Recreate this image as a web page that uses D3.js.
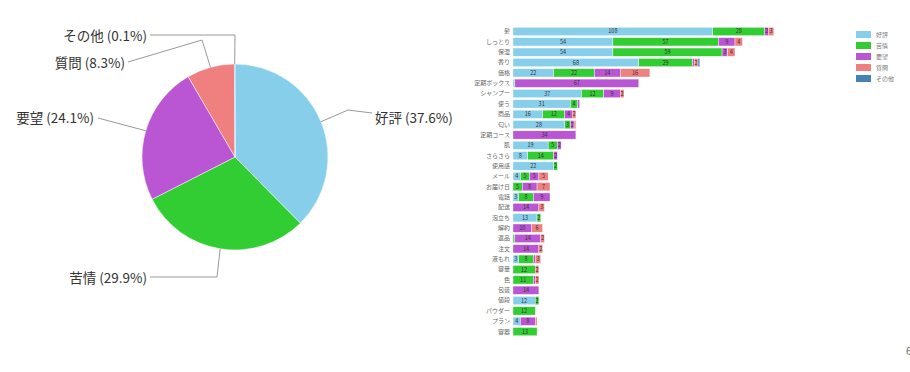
<!doctype html>
<html lang="ja">
<head>
  <meta charset="utf-8">
  <title>評価の内訳</title>
  <script src="https://cdnjs.cloudflare.com/ajax/libs/d3/7.8.5/d3.min.js"></script>
  <style>
    body { margin: 0; overflow: hidden; background: #fff; }
    text { font-family: "Noto Sans CJK JP", "Noto Sans", sans-serif; }
  </style>
</head>
<body>
<script type="text/javascript">

  // series (pie + stacked bars)
  var types = ["好評", "苦情", "要望", "質問", "その他"];
  var colors = ["#87CEEB", "#32CD32", "#BA55D3", "#F08080", "#4682B4"];
  var piePct = [37.6, 29.9, 24.1, 8.3, 0.1];

  var categories = ["髪", "しっとり", "保湿", "香り", "価格", "定期ボックス", "シャンプー", "使う", "商品", "匂い",
    "定期コース", "肌", "さらさら", "使用感", "メール", "お届け日", "電話", "配送", "泡立ち", "解約",
    "返品", "注文", "液もれ", "容量", "色", "包装", "値段", "パウダー", "プラン", "容器"];

  var goodVals  = [108, 54, 54, 68, 22, 1, 37, 31, 16, 28, 0, 19, 8, 22, 4, 0, 3, 0, 13, 0, 0, 0, 3, 0, 0, 0, 12, 0, 4, 0];
  var badVals   = [28, 57, 59, 29, 22, 0, 12, 4, 12, 3, 0, 5, 14, 2, 5, 5, 8, 0, 2, 0, 1, 0, 8, 12, 11, 0, 2, 12, 0, 13];
  var wantVals  = [2, 9, 3, 1, 14, 67, 9, 1, 4, 2, 34, 2, 2, 0, 5, 8, 9, 14, 0, 10, 14, 14, 1, 0, 1, 14, 0, 0, 8, 0];
  var askVals   = [3, 4, 4, 2, 16, 0, 2, 0, 2, 1, 0, 0, 0, 0, 5, 7, 0, 3, 0, 6, 2, 2, 3, 2, 2, 0, 0, 0, 1, 0];
  var otherVals = [0, 0, 0, 1, 0, 0, 0, 0, 0, 0, 0, 0, 0, 0, 0, 0, 0, 0, 0, 0, 0, 0, 0, 0, 0, 0, 0, 0, 0, 0];

  var config = {
    width: 910, height: 372,
    pieCx: 235, pieCy: 157, pieR: 93,
    barLeft: 513, barRight: 772, barTop: 26.3, barBottom: 336.8,
    xMax: 140
  };

  var svg = d3.select("body").append("svg")
    .attr("width", config.width)
    .attr("height", config.height);

  // ---------- pie ----------
  svg.append("defs").append("clipPath").attr("id", "pieclip")
    .append("rect").attr("x", 0).attr("y", 0).attr("width", 456).attr("height", config.height);

  var pieG = svg.append("g").attr("clip-path", "url(#pieclip)");
  var g = pieG.append("g").attr("transform", "translate(" + config.pieCx + "," + config.pieCy + ")");

  var pie = d3.pie().sort(null).value(d => d);
  var arcs = pie(piePct);
  var arc = d3.arc().innerRadius(0).outerRadius(config.pieR);
  var edge = d3.arc().innerRadius(config.pieR).outerRadius(config.pieR);

  g.selectAll("path.slice").data(arcs).enter().append("path")
    .attr("class", "slice")
    .attr("d", arc)
    .attr("fill", (d, i) => colors[i])
    .attr("stroke", "#fff")
    .attr("stroke-width", 0.5);

  // label layout relative to the pie centre: knee point, line end, text anchor
  var labelLayout = [
    { knee: [113, -47], end: [137, -44], text: [140, -40], anchor: "start" },
    { knee: [-18, 120], end: [-85, 120], text: [-88, 120], anchor: "end" },
    { knee: [-137, -39], end: [-137, -39], text: [-141, -40], anchor: "end" },
    { knee: [-33, -117], end: [-107, -95], text: [-110, -95], anchor: "end" },
    { knee: [0, -122], end: [-85, -122], text: [-88, -122], anchor: "end" }
  ];

  arcs.forEach((d, i) => {
    var p = edge.centroid(d);
    var L = labelLayout[i];
    g.append("polyline")
      .attr("points", [p, L.knee, L.end].map(q => q.join(",")).join(" "))
      .attr("fill", "none")
      .attr("stroke", "#999")
      .attr("stroke-width", 1);
    g.append("text")
      .attr("x", L.text[0]).attr("y", L.text[1])
      .attr("text-anchor", L.anchor)
      .attr("dominant-baseline", "central")
      .attr("font-size", 13.5)
      .attr("fill", "#333")
      .text(types[i] + " (" + piePct[i].toFixed(1) + "%)");
  });

  // ---------- stacked bars ----------
  var rows = categories.map((c, i) => ({
    cat: c,
    "好評": goodVals[i], "苦情": badVals[i], "要望": wantVals[i], "質問": askVals[i], "その他": otherVals[i]
  }));
  var stacked = d3.stack().keys(types)(rows);

  var x = d3.scaleLinear().domain([0, config.xMax]).range([config.barLeft, config.barRight]);
  var y = d3.scaleBand().domain(categories)
    .range([config.barTop, config.barBottom])
    .paddingInner(0.2).paddingOuter(0.1);

  var barG = svg.append("g");
  stacked.forEach((layer, k) => {
    var lg = barG.append("g");
    lg.selectAll("rect").data(layer.filter(s => s[1] > s[0])).enter().append("rect")
      .attr("x", s => x(s[0]))
      .attr("y", s => y(s.data.cat))
      .attr("width", s => x(s[1]) - x(s[0]))
      .attr("height", y.bandwidth())
      .attr("fill", colors[k])
      .attr("stroke", "#fff")
      .attr("stroke-width", 0.4);
    lg.selectAll("text").data(layer.filter(s => x(s[1]) - x(s[0]) >= 3.5)).enter().append("text")
      .attr("x", s => (x(s[0]) + x(s[1])) / 2)
      .attr("y", s => y(s.data.cat) + y.bandwidth() / 2)
      .attr("text-anchor", "middle")
      .attr("dominant-baseline", "central")
      .attr("font-size", 5.5)
      .attr("fill", "#333")
      .text(s => s[1] - s[0]);
  });

  var yAxis = d3.axisLeft(y).tickSize(0).tickPadding(3);
  var ax = svg.append("g").attr("transform", "translate(" + config.barLeft + ",0)").call(yAxis);
  ax.select(".domain").remove();
  ax.selectAll("text").attr("font-size", 6).attr("fill", "#666")
    .style("font-family", "'Noto Sans CJK JP', sans-serif");

  // ---------- legend ----------
  var leg = svg.append("g").attr("transform", "translate(856,31)");
  types.forEach((t, i) => {
    var row = leg.append("g").attr("transform", "translate(0," + (i * 11) + ")");
    row.append("rect").attr("width", 15).attr("height", 7).attr("fill", colors[i]);
    row.append("text").attr("x", 20).attr("y", 3.5)
      .attr("dominant-baseline", "central")
      .attr("font-size", 6).attr("fill", "#777").text(t);
  });

  // stray page mark at the right edge
  svg.append("text").attr("x", 906).attr("y", 355)
    .attr("font-size", 10).attr("fill", "#666").text("6");

</script>
</body>
</html>
